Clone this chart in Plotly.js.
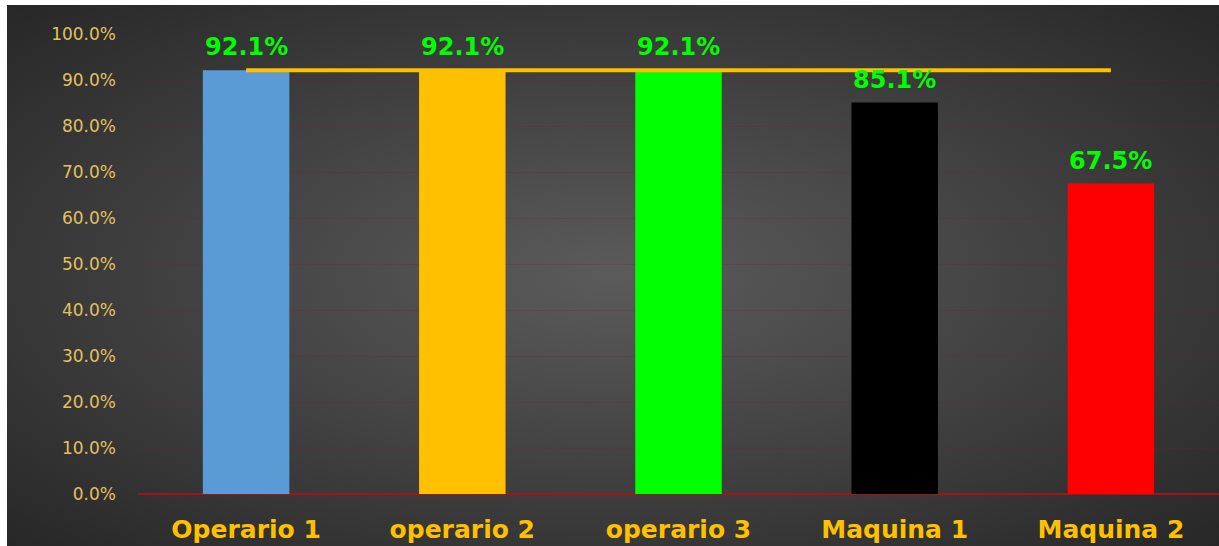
<!DOCTYPE html>
<html>
<head>
<meta charset="utf-8">
<script src="https://cdn.plot.ly/plotly-3.0.1.min.js"></script>
<style>
  html, body { margin: 0; padding: 0; background: #ffffff; width: 1219px; height: 546px; overflow: hidden; }
  #bg { position: absolute; left: 7px; top: 5px; width: 1212px; height: 541px;
        background: radial-gradient(ellipse farthest-corner at 50% 50%, #5b5b5b 0%, #444444 45%, #272727 100%); }
  #chart { position: absolute; left: 0; top: 0; width: 1219px; height: 546px; }
</style>
</head>
<body>
<div id="bg"></div>
<div id="chart"></div>
<script>
const categories = ["Operario 1", "operario 2", "operario 3", "Maquina 1", "Maquina 2"];
const values = [92.1, 92.1, 92.1, 85.1, 67.5];
const targetValues = [92.1, 92.1, 92.1, 92.1, 92.1];
const barColors = ["#5B9BD5", "#FFC000", "#00FF00", "#000000", "#FF0000"];
const yTickVals = [0, 10, 20, 30, 40, 50, 60, 70, 80, 90, 100];
const yTickText = yTickVals.map(v => v.toFixed(1) + "%");
const labels = values.map(v => v.toFixed(1) + "%");

const bars = {
  type: "bar",
  x: categories,
  y: values,
  marker: { color: barColors, line: { width: 0 } },
  hoverinfo: "skip",
  showlegend: false
};

const target = {
  type: "scatter",
  mode: "lines",
  x: categories,
  y: targetValues,
  line: { color: "#FFC000", width: 4 },
  hoverinfo: "skip",
  showlegend: false
};

const annotations = categories.map((c, i) => ({
  x: c, y: values[i], xref: "x", yref: "y",
  text: labels[i], showarrow: false, yanchor: "bottom", yshift: 7,
  font: { family: "DejaVu Sans", size: 24, color: "#00FF00", weight: "bold" }
}));

const layout = {
  width: 1219, height: 546,
  margin: { l: 138, r: 0, t: 34, b: 52 },
  paper_bgcolor: "rgba(0,0,0,0)",
  plot_bgcolor: "rgba(0,0,0,0)",
  bargap: 0.6,
  xaxis: {
    type: "category",
    range: [-0.5, 4.5],
    showgrid: false,
    zeroline: false,
    showline: false,
    ticks: "",
    tickfont: { family: "DejaVu Sans", size: 25, color: "#FFC000", weight: "bold" },
    ticklabelstandoff: 18
  },
  yaxis: {
    range: [0, 100],
    tickvals: yTickVals,
    ticktext: yTickText,
    showgrid: true,
    gridcolor: "rgba(120,30,30,0.22)",
    gridwidth: 1,
    zeroline: true,
    zerolinecolor: "#A31515",
    zerolinewidth: 2,
    showline: false,
    ticks: "",
    ticklabelstandoff: 21,
    tickfont: { family: "DejaVu Sans", size: 17, color: "#E3C05E" }
  },
  annotations: annotations
};

Plotly.newPlot("chart", [bars, target], layout, { displayModeBar: false, staticPlot: true });
</script>
</body>
</html>
